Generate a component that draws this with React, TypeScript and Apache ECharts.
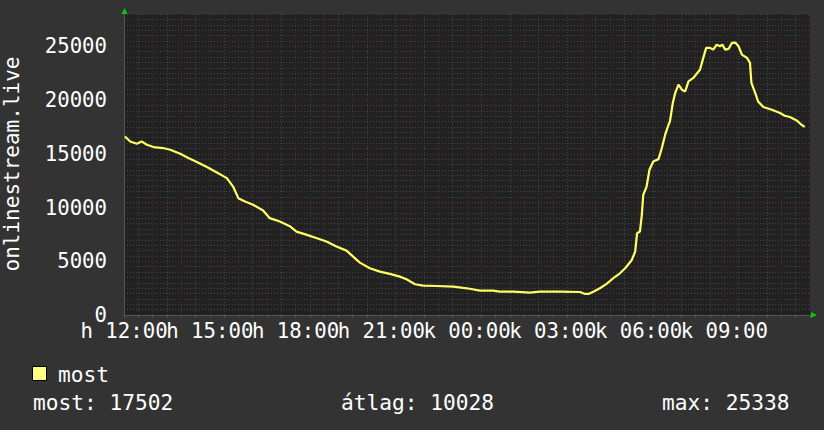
import React, { useEffect, useRef } from "react";
import * as echarts from "echarts";

// minutes after Monday 12:00
const minutes = [
  2, 13, 27, 37, 48, 62, 82, 97, 118, 135, 153, 174, 195, 216, 229, 240, 254, 271, 292, 306,
  327, 348, 362, 384, 405, 425, 446, 467, 481, 495, 516, 537, 558, 579, 593, 611, 628, 656, 691, 712,
  726, 747, 775, 789, 817, 852, 873, 915, 957, 968, 975, 985, 999, 1013, 1027, 1041, 1052, 1066, 1073, 1077,
  1083, 1087, 1090, 1097, 1103, 1111, 1122, 1129, 1136, 1143, 1146, 1152, 1157, 1164, 1171, 1178, 1185, 1195, 1209, 1213,
  1222, 1230, 1237, 1244, 1251, 1256, 1262, 1269, 1276, 1283, 1290, 1297, 1308, 1314, 1317, 1325, 1331, 1342, 1360, 1377,
  1387, 1398, 1412, 1422, 1429,
];
const values = [
  16610, 16145, 15930, 16145, 15837, 15620, 15530, 15370, 15000, 14600, 14225, 13760, 13257, 12735, 11950, 10870, 10555, 10250, 9716, 9008,
  8690, 8260, 7760, 7450, 7145, 6830, 6365, 5990, 5430, 4870, 4350, 4035, 3820, 3570, 3325, 2860, 2730, 2700, 2635, 2515,
  2440, 2265, 2265, 2170, 2170, 2080, 2170, 2170, 2140, 1956, 1956, 2170, 2490, 2890, 3420, 3880, 4350, 5120, 5900, 7610,
  7760, 9316, 11180, 11950, 13510, 14280, 14500, 15530, 16770, 17700, 18010, 19720, 20650, 21430, 20960, 20800, 21730, 22050, 22820, 23450,
  24850, 24850, 24690, 25150, 25000, 25150, 24690, 24750, 25310, 25338, 25000, 24220, 23910, 23450, 21590, 20650, 19870, 19350, 19100, 18790,
  18540, 18420, 18100, 17700, 17502,
];
const xTickLabels = ["h 12:00", "h 15:00", "h 18:00", "h 21:00", "k 00:00", "k 03:00", "k 06:00", "k 09:00"];
const yAxisName = "onlinestream.live";
const seriesName = "most";
const statLabels = ["most: 17502", "átlag: 10028", "max: 25338"];

export default function App() {
  const ref = useRef<HTMLDivElement>(null);
  useEffect(() => {
    const chart = echarts.init(ref.current!, null, { renderer: "svg" });
    const mono = "'DejaVu Sans Mono', monospace";
    const major = "#5c2727";
    const minor = "#454545";
    const gridLeft = 124, gridTop = 14, gridRight = 14, gridBottom = 115;
    const W = 824, H = 430;
    const plotRight = W - gridRight, plotBottom = H - gridBottom;
    const txt = (text: string, x: number, y: number, size: number, extra: any = {}) => ({
      type: "text",
      x, y,
      ...extra,
      style: {
        text,
        fill: "#ffffff",
        fontFamily: mono,
        fontSize: size,
        align: extra.align || "left",
        textAlign: extra.align || "left",
        verticalAlign: "middle",
        textVerticalAlign: "middle",
      },
    });
    chart.setOption({
      animation: false,
      backgroundColor: "#333333",
      grid: {
        left: gridLeft, top: gridTop, right: gridRight, bottom: gridBottom,
        show: true, backgroundColor: "#212121", borderWidth: 0,
      },
      xAxis: {
        type: "value", min: 0, max: 1440, interval: 30,
        axisLine: { show: true, lineStyle: { color: "#555555", width: 1 } },
        axisTick: { show: true, length: 3, lineStyle: { color: "#555555" } },
        axisLabel: {
          color: "#ffffff", fontFamily: mono, fontSize: 20.7, lineHeight: 13, margin: 9.5,
          formatter: (v: number) => (v % 180 === 0 && v / 180 < xTickLabels.length ? xTickLabels[v / 180] : ""),
        },
        splitLine: { show: true, lineStyle: { color: [major, minor], type: [1, 2], width: 1 } },
      },
      yAxis: {
        type: "value", min: 0, max: 28000, interval: 500,
        axisLine: { show: true, lineStyle: { color: "#555555", width: 1 } },
        axisTick: { show: false },
        axisLabel: {
          color: "#ffffff", fontFamily: mono, fontSize: 20.7, lineHeight: 13, margin: 17,
          formatter: (v: number) => (v % 5000 === 0 ? String(v) : ""),
        },
        splitLine: {
          show: true,
          lineStyle: { color: [major, minor, minor, minor, minor, minor, minor, minor, minor, minor], type: [1, 2], width: 1 },
        },
      },
      series: [
        {
          name: seriesName, type: "line", showSymbol: false, symbol: "none",
          data: minutes.map((m, i) => [m, values[i]]),
          lineStyle: { color: "#ffff66", width: 2.2 },
          z: 5,
        },
      ],
      graphic: [
        {
          type: "polygon", shape: { points: [[gridLeft - 2.5, gridTop], [gridLeft + 3.5, gridTop], [gridLeft + 0.5, gridTop - 6]] },
          style: { fill: "#00cc00" },
        },
        {
          type: "polygon", shape: { points: [[plotRight + 1, plotBottom - 3], [plotRight + 1, plotBottom + 3], [plotRight + 7, plotBottom]] },
          style: { fill: "#00cc00" },
        },
        txt(yAxisName, 11.5, 164, 21, { rotation: Math.PI / 2, align: "center" }),
        { type: "rect", shape: { x: 32.5, y: 366.5, width: 14, height: 14 }, style: { fill: "#ffff80", stroke: "#000000", lineWidth: 1 } },
        txt(seriesName, 58, 374, 21.2),
        txt(statLabels[0], 33, 402, 21.2),
        txt(statLabels[1], 341, 402, 21.2),
        txt(statLabels[2], 662, 402, 21.2),
      ],
    });
    return () => chart.dispose();
  }, []);
  return <div ref={ref} style={{ position: "absolute", left: 0, top: 0, width: 824, height: 430 }} />;
}
